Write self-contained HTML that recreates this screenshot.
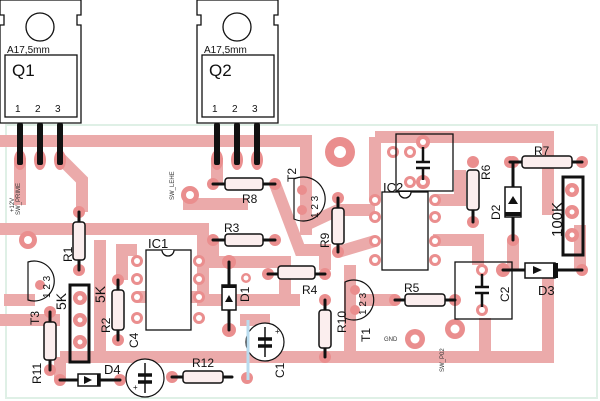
<!DOCTYPE html>
<html><head><meta charset="utf-8"><style>
html,body{margin:0;padding:0;background:#fff;}
svg{display:block;font-family:"Liberation Sans",sans-serif;}
</style></head><body>
<svg width="600" height="401" viewBox="0 0 600 401" xmlns="http://www.w3.org/2000/svg">
<rect width="600" height="401" fill="#fff"/>
<path d="M6,125 H597 V398 H6 Z" fill="none" stroke="#dff0e6" stroke-width="2"/>

<g fill="none" stroke="#ebaaaa" stroke-width="12" stroke-linejoin="miter">
<path d="M0,141 H306 V235"/>
<path d="M20,158 V205"/>
<path d="M60,158 L82,180 V212"/>
<path d="M0,229 H203 V300 H300"/>
<path d="M183,204 H248"/>
<path d="M217,158 V184"/>
<path d="M275,184 L300,250 H325 V270"/>
<path d="M160,229 H205"/>
<path d="M213,240 V262 H229"/>
<path d="M229,262 H285 V300"/>
<path d="M4,300 H35 M0,320 H60"/>
<path d="M100,240 V357"/>
<path d="M60,357 H548 V265"/>
<path d="M60,357 V380"/>
<path d="M375,137 H548 V215"/>
<path d="M375,137 V200"/>
<path d="M306,225 L338,210 H375"/>
<path d="M338,252 L375,241"/>
<path d="M433,240 H478 V265"/>
<path d="M513,240 V270"/>
<path d="M580,225 V270"/>
<path d="M485,318 V357"/>
<path d="M350,265 V357"/>
<path d="M395,300 H360"/>
<path d="M137,297 H205"/>
<path d="M122,280 V250 H137"/>
<path d="M240,320 H270"/>
<path d="M435,200 H460 V170"/>
</g>

<g fill="#ea8e8e">
<ellipse cx="20" cy="160" rx="6" ry="10"/><ellipse cx="40" cy="160" rx="6" ry="10"/><ellipse cx="60" cy="160" rx="6" ry="10"/>
<ellipse cx="217" cy="160" rx="6" ry="10"/><ellipse cx="237" cy="160" rx="6" ry="10"/><ellipse cx="257" cy="160" rx="6" ry="10"/>
<circle cx="340" cy="152" r="15"/>
<circle cx="28" cy="240" r="9"/>
<circle cx="190" cy="195" r="9"/>
<circle cx="415" cy="339" r="10"/>
<circle cx="455" cy="329" r="10"/>
<circle cx="80" cy="298" r="7"/><circle cx="80" cy="320" r="7"/><circle cx="80" cy="342" r="7"/>
<circle cx="572" cy="190" r="7"/><circle cx="572" cy="212" r="7"/><circle cx="572" cy="235" r="7"/>
<circle cx="137" cy="261" r="6"/><circle cx="137" cy="279" r="6"/><circle cx="137" cy="297" r="6"/><circle cx="137" cy="318" r="6"/>
<circle cx="199" cy="261" r="6"/><circle cx="199" cy="279" r="6"/><circle cx="199" cy="297" r="6"/><circle cx="199" cy="318" r="6"/>
<circle cx="375" cy="200" r="6"/><circle cx="375" cy="217" r="6"/><circle cx="375" cy="241" r="6"/><circle cx="375" cy="260" r="6"/>
<circle cx="435" cy="200" r="6"/><circle cx="435" cy="217" r="6"/><circle cx="435" cy="241" r="6"/><circle cx="435" cy="260" r="6"/>
<circle cx="423" cy="142" r="7"/><circle cx="393" cy="152" r="6"/><circle cx="410" cy="152" r="6"/><circle cx="410" cy="182" r="6"/><circle cx="423" cy="182" r="7"/>
<circle cx="482" cy="270" r="6"/><circle cx="482" cy="310" r="6"/>
<circle cx="513" cy="162" r="6"/><circle cx="513" cy="240" r="6"/>
<circle cx="473" cy="162" r="6"/><circle cx="473" cy="222" r="6"/>
<circle cx="510" cy="162" r="6"/><circle cx="582" cy="162" r="6"/>
<circle cx="503" cy="270" r="7"/><circle cx="582" cy="270" r="6"/>
<circle cx="338" cy="198" r="6"/><circle cx="338" cy="252" r="6"/>
<circle cx="213" cy="184" r="6"/><circle cx="275" cy="184" r="6"/>
<circle cx="213" cy="240" r="6"/><circle cx="275" cy="240" r="6"/>
<circle cx="268" cy="274" r="6"/><circle cx="325" cy="274" r="6"/>
<circle cx="325" cy="300" r="6"/><circle cx="325" cy="357" r="6"/>
<circle cx="395" cy="300" r="6"/><circle cx="455" cy="300" r="6"/>
<circle cx="79" cy="212" r="6"/><circle cx="79" cy="270" r="6"/>
<circle cx="118" cy="280" r="6"/><circle cx="118" cy="340" r="6"/>
<circle cx="50" cy="312" r="6"/><circle cx="50" cy="370" r="6"/>
<circle cx="229" cy="262" r="7"/><circle cx="229" cy="330" r="7"/><circle cx="246" cy="278" r="5"/>
<circle cx="172" cy="377" r="6"/><circle cx="247" cy="378" r="6"/>
<circle cx="60" cy="380" r="6"/><circle cx="120" cy="380" r="6"/>
<circle cx="302" cy="190" r="5"/><circle cx="302" cy="210" r="5"/>
<circle cx="355" cy="290" r="5"/><circle cx="355" cy="310" r="5"/>
<circle cx="40" cy="285" r="5"/>
</g>
<g fill="#fff">
<circle cx="340" cy="152" r="6"/><circle cx="28" cy="240" r="4"/><circle cx="190" cy="195" r="4"/>
<circle cx="415" cy="339" r="4.5"/><circle cx="455" cy="329" r="4.5"/>
<circle cx="80" cy="298" r="2.5"/><circle cx="80" cy="320" r="2.5"/><circle cx="80" cy="342" r="2.5"/>
<circle cx="572" cy="190" r="2.5"/><circle cx="572" cy="212" r="2.5"/><circle cx="572" cy="235" r="2.5"/>
<circle cx="137" cy="261" r="3"/><circle cx="137" cy="279" r="3"/><circle cx="137" cy="297" r="3"/><circle cx="137" cy="318" r="3"/>
<circle cx="199" cy="261" r="3"/><circle cx="199" cy="279" r="3"/><circle cx="199" cy="297" r="3"/><circle cx="199" cy="318" r="3"/>
<circle cx="375" cy="200" r="3"/><circle cx="375" cy="217" r="3"/><circle cx="375" cy="241" r="3"/><circle cx="375" cy="260" r="3"/>
<circle cx="435" cy="200" r="3"/><circle cx="435" cy="217" r="3"/><circle cx="435" cy="241" r="3"/><circle cx="435" cy="260" r="3"/>
<circle cx="423" cy="142" r="3"/><circle cx="393" cy="152" r="3"/><circle cx="410" cy="152" r="3"/><circle cx="410" cy="182" r="3"/><circle cx="423" cy="182" r="3"/>
<circle cx="482" cy="270" r="3"/><circle cx="482" cy="310" r="3"/><circle cx="246" cy="278" r="2.5"/>
</g>

<path d="M0,0 H81 V15 H77 V25 H81 V123 H0 V25 H4 V15 H0 Z" fill="#fff" stroke="#111" stroke-width="1.3"/>
<circle cx="40" cy="27" r="14" fill="none" stroke="#111" stroke-width="1.3"/>
<rect x="5" y="55" width="72" height="62" fill="none" stroke="#111" stroke-width="1.3"/>
<path d="M197,0 H278 V15 H274 V25 H278 V123 H197 V25 H201 V15 H197 Z" fill="#fff" stroke="#111" stroke-width="1.3"/>
<circle cx="237" cy="27" r="14" fill="none" stroke="#111" stroke-width="1.3"/>
<rect x="202" y="55" width="72" height="62" fill="none" stroke="#111" stroke-width="1.3"/>
<g fill="#111">
<rect x="17" y="123" width="6" height="42" rx="2"/><rect x="37" y="123" width="6" height="42" rx="2"/><rect x="57" y="123" width="6" height="42" rx="2"/>
<rect x="214" y="123" width="6" height="42" rx="2"/><rect x="234" y="123" width="6" height="42" rx="2"/><rect x="254" y="123" width="6" height="42" rx="2"/>
</g>
<g font-size="10" fill="#111">
<text x="7" y="53">A17,5mm</text><text x="204" y="53">A17,5mm</text>
<text x="15" y="112">1</text><text x="35" y="112">2</text><text x="55" y="112">3</text>
<text x="212" y="112">1</text><text x="232" y="112">2</text><text x="252" y="112">3</text>
</g>
<text x="12" y="76" font-size="17" fill="#111">Q1</text>
<text x="209" y="76" font-size="17" fill="#111">Q2</text>

<g stroke="#111" stroke-width="3" fill="none" stroke-linecap="round">
<path d="M213,184 H275 M213,240 H275 M268,274 H325 M395,300 H455 M510,162 H582 M172,377 H232 M60,380 H120 M503,270 H582"/>
<path d="M79,212 V270 M118,280 V340 M50,312 V370 M325,300 V357 M338,198 V252 M473,185 V222 M513,162 V240 M229,262 V330"/>
</g>
<g fill="#fbeeee" stroke="#111" stroke-width="1.5">
<rect x="225" y="178" width="38" height="12" rx="3"/>
<rect x="225" y="234" width="38" height="12" rx="3"/>
<rect x="278" y="266" width="37" height="13" rx="3"/>
<rect x="405" y="294" width="40" height="12" rx="3"/>
<rect x="522" y="156" width="50" height="12" rx="3"/>
<rect x="183" y="371" width="40" height="12" rx="3"/>
<rect x="73" y="222" width="12" height="38" rx="3"/>
<rect x="112" y="290" width="12" height="40" rx="3"/>
<rect x="44" y="322" width="12" height="38" rx="3"/>
<rect x="319" y="310" width="12" height="38" rx="3"/>
<rect x="332" y="208" width="12" height="36" rx="3"/>
<rect x="467" y="170" width="12" height="40" rx="3"/>
</g>
<g fill="#fff" stroke="#111" stroke-width="1.5">
<rect x="78" y="374" width="22" height="12"/>
<rect x="525" y="263" width="30" height="15"/>
<rect x="505" y="187" width="16" height="30"/>
<rect x="222" y="285" width="14" height="25"/>
</g>
<g fill="#111">
<rect x="97" y="374" width="3" height="12"/><rect x="553" y="263" width="5" height="15"/>
<rect x="505" y="212" width="16" height="4"/><rect x="222" y="285" width="14" height="3"/>
<path d="M84,376 L92,380 L84,384 Z"/><path d="M533,266 L542,270 L533,274 Z"/>
<path d="M508,204 L513,196 L518,204 Z"/><path d="M225,302 L229,295 L233,302 Z"/>
</g>

<rect x="146" y="250" width="45" height="80" fill="#fff" stroke="#111" stroke-width="1.3"/>
<path d="M162,250 A6,6 0 0 0 174,250" fill="#fff" stroke="#111" stroke-width="1.3"/>
<rect x="382" y="192" width="46" height="78" fill="none" stroke="#111" stroke-width="1.3"/>
<path d="M399,192 A6,6 0 0 0 411,192" fill="#fff" stroke="#111" stroke-width="1.3"/>
<rect x="396" y="134" width="57" height="57" fill="none" stroke="#111" stroke-width="1.3"/>
<rect x="455" y="262" width="57" height="57" fill="none" stroke="#111" stroke-width="1.3"/>
<g stroke="#111" stroke-width="2.5">
<path d="M416,162 H430 M416,168 H430 M423,147 V162 M423,168 V180"/>
<path d="M475,287 H489 M475,293 H489 M482,274 V287 M482,293 V307"/>
</g>
<rect x="70" y="285" width="19" height="77" fill="none" stroke="#111" stroke-width="3"/>
<rect x="563" y="177" width="20" height="78" fill="none" stroke="#111" stroke-width="3"/>

<g fill="none" stroke="#111" stroke-width="1.2">
<path d="M294,179 A22,22 0 1 1 294,219 Z"/>
<path d="M28,262 A20,20 0 1 1 28,300 Z"/>
<path d="M345,282 A20,20 0 1 1 345,318 Z"/>
</g>
<g fill="#fff" stroke="#111" stroke-width="1.2">
<circle cx="265" cy="342" r="19"/><circle cx="145" cy="378" r="19"/>
</g>
<g stroke="#111" stroke-width="1.5"><path d="M265,327 V357 M145,363 V393"/></g>
<g stroke="#111" stroke-width="3.5">
<path d="M258,339 H272 M258,346 H272 M138,375 H152 M138,382 H152"/>
</g>
<text x="275" y="334" font-size="8" fill="#111">+</text>
<text x="133" y="390" font-size="8" fill="#111">+</text>
<path d="M248,320 V380" stroke="#b9dcef" stroke-width="3"/>

<g font-size="12" fill="#111">
<text x="242" y="203">R8</text>
<text x="224" y="232">R3</text>
<text x="302" y="294">R4</text>
<text x="404" y="292">R5</text>
<text x="534" y="155">R7</text>
<text x="192" y="367">R12</text>
<text x="148" y="248" font-size="13">IC1</text>
<text x="383" y="192" font-size="13">IC2</text>
<text x="104" y="374" font-size="13">D4</text>
<text x="538" y="295" font-size="13">D3</text>
</g>
<g font-size="12" fill="#111">
<text transform="translate(296,182) rotate(-90)">T2</text>
<text transform="translate(72,262) rotate(-90)">R1</text>
<text transform="translate(110,333) rotate(-90)">R2</text>
<text transform="translate(41,384) rotate(-90)">R11</text>
<text transform="translate(346,333) rotate(-90)">R10</text>
<text transform="translate(329,248) rotate(-90)">R9</text>
<text transform="translate(490,180) rotate(-90)">R6</text>
<text transform="translate(500,220) rotate(-90)">D2</text>
<text transform="translate(249,302) rotate(-90)">D1</text>
<text transform="translate(284,378) rotate(-90)">C1</text>
<text transform="translate(138,348) rotate(-90)">C4</text>
<text transform="translate(509,302) rotate(-90)">C2</text>
<text transform="translate(39,325) rotate(-90)">T3</text>
<text transform="translate(370,342) rotate(-90)">T1</text>
<text transform="translate(105,303) rotate(-90)" font-size="14">5K</text>
<text transform="translate(66,310) rotate(-90)" font-size="14">5K</text>
<text transform="translate(562,237) rotate(-90)" font-size="15">100K</text>
</g>
<g font-size="10" fill="#111">
<text transform="translate(318,218) rotate(-90)">1 2 3</text>
<text transform="translate(50,298) rotate(-90)">1 2 3</text>
<text transform="translate(366,315) rotate(-90)">1 2 3</text>
</g>
<g font-size="6" fill="#333">
<text x="384" y="341">GND</text>
<text transform="translate(14,212) rotate(-90)">+12V</text>
<text transform="translate(20,215) rotate(-90)">SW_PRIME</text>
<text transform="translate(174,200) rotate(-90)">SW_LEHE</text>
<text transform="translate(444,372) rotate(-90)">SW_P02</text>
</g>
</svg>
</body></html>
